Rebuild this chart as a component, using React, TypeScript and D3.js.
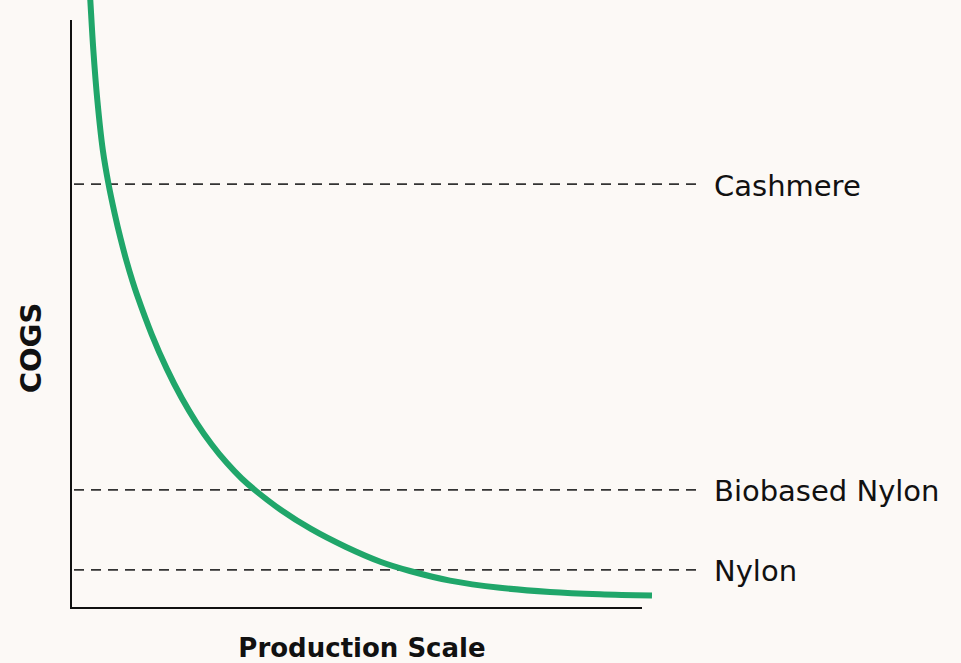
import React, { useRef, useEffect } from "react";
import * as d3 from "d3";

// curve (arbitrary units, 0-100 on both axes)
const productionScale = [3.17, 3.38, 3.91, 4.61, 5.57, 6.57, 7.62, 8.67, 9.72, 10.77, 11.51, 14.13, 16.76, 19.39, 22.01, 24.64, 27.27, 29.89, 32.4, 36.78, 42.03, 48.16, 54.29, 59.37, 66.37, 75.13, 83.89, 92.64, 101.75];
const cogs = [106.8, 103.4, 94.9, 86.39, 77.89, 72.11, 67.21, 62.87, 59.01, 55.58, 53.4, 46.55, 40.71, 35.71, 31.46, 27.81, 24.69, 22.02, 19.9, 16.67, 13.44, 10.37, 7.82, 6.29, 4.66, 3.44, 2.74, 2.35, 2.13];

const materials = ["Cashmere", "Biobased Nylon", "Nylon"];
const materialCogs = [72.1, 20.1, 6.5];

const WIDTH = 961;
const HEIGHT = 663;

const App = () => {
    const svgRef = useRef(null);

    useEffect(() => {
        const svg = d3.select(svgRef.current);
        svg.selectAll("*").remove();

        const x = d3.scaleLinear().domain([0, 100]).range([71, 642]);
        const y = d3.scaleLinear().domain([0, 100]).range([608, 20]);

        svg.append("rect")
            .attr("width", WIDTH)
            .attr("height", HEIGHT)
            .attr("fill", "#fcf9f6");

        // dashed reference lines
        const refs = svg.append("g");
        refs.selectAll("line")
            .data(materialCogs)
            .enter()
            .append("line")
            .attr("x1", 74)
            .attr("x2", 697)
            .attr("y1", (d) => y(d))
            .attr("y2", (d) => y(d))
            .attr("stroke", "#333")
            .attr("stroke-width", 1.8)
            .attr("stroke-dasharray", "10 7");

        refs.selectAll("text")
            .data(materials)
            .enter()
            .append("text")
            .attr("x", 714)
            .attr("y", (d, i) => y(materialCogs[i]) + 11.5)
            .attr("font-family", "'DejaVu Sans', sans-serif")
            .attr("font-size", 29)
            .attr("fill", "#111")
            .text((d) => d);

        // axes (no ticks)
        svg.append("line")
            .attr("x1", x(0)).attr("x2", x(0))
            .attr("y1", y(100)).attr("y2", y(0))
            .attr("stroke", "#111").attr("stroke-width", 2);
        svg.append("line")
            .attr("x1", x(0) - 1).attr("x2", x(100))
            .attr("y1", y(0)).attr("y2", y(0))
            .attr("stroke", "#111").attr("stroke-width", 2);

        const line = d3
            .line()
            .x((d) => x(d[0]))
            .y((d) => y(d[1]))
            .curve(d3.curveCatmullRom.alpha(0.5));

        svg.append("path")
            .datum(productionScale.map((v, i) => [v, cogs[i]]))
            .attr("d", line)
            .attr("fill", "none")
            .attr("stroke", "#20a66a")
            .attr("stroke-width", 6);

        svg.append("text")
            .attr("x", 362)
            .attr("y", 657)
            .attr("text-anchor", "middle")
            .attr("font-family", "'DejaVu Sans', sans-serif")
            .attr("font-weight", "bold")
            .attr("font-size", 26)
            .attr("fill", "#111")
            .text("Production Scale");

        svg.append("text")
            .attr("transform", "translate(41, 348) rotate(-90)")
            .attr("text-anchor", "middle")
            .attr("font-family", "'DejaVu Sans', sans-serif")
            .attr("font-weight", "bold")
            .attr("font-size", 29)
            .attr("fill", "#111")
            .text("COGS");
    }, []);

    return (
        <svg
            ref={svgRef}
            width={WIDTH}
            height={HEIGHT}
            style={{ position: "absolute", left: 0, top: 0, display: "block" }}
        />
    );
};

export default App;
